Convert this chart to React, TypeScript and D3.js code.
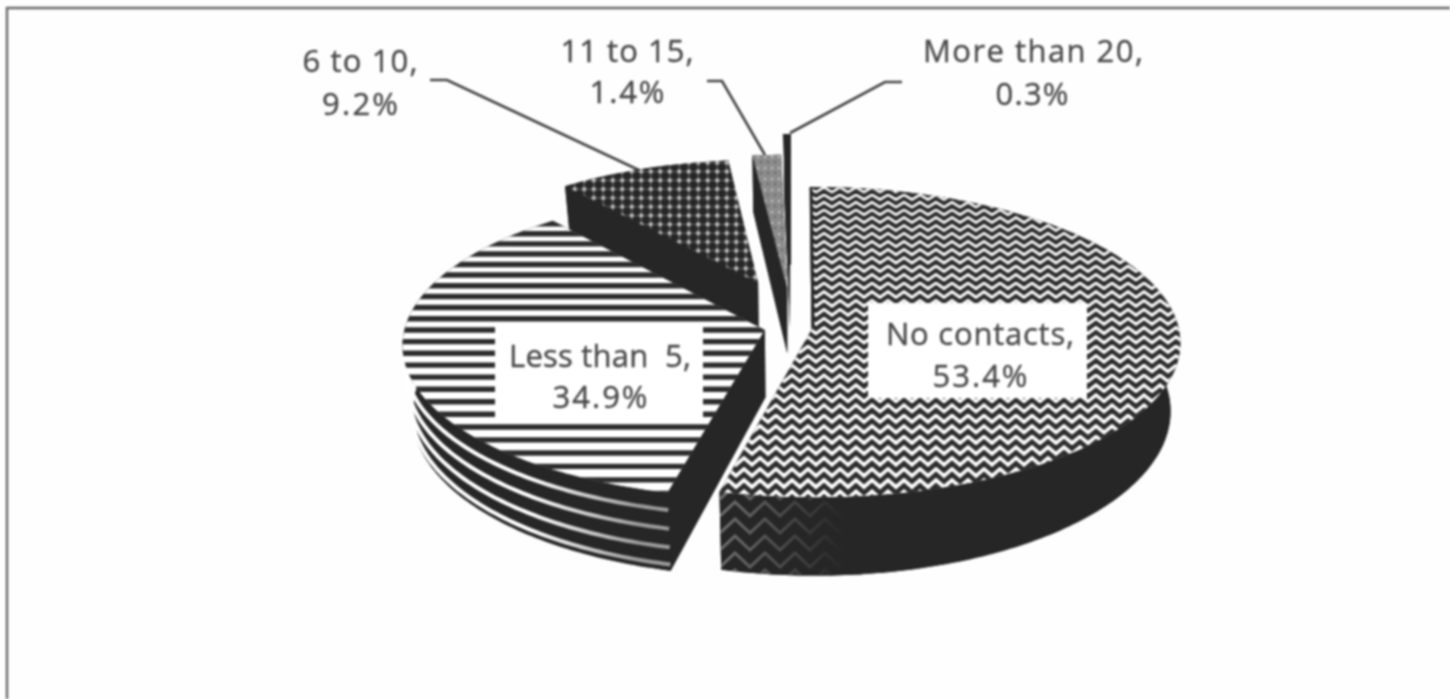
import React from "react";
import * as d3 from "d3";

const categories = ["No contacts", "Less than 5", "6 to 10", "11 to 15", "More than 20"];
const shares = [53.4, 34.9, 9.2, 1.4, 0.3];
const shareLabels = ["53.4%", "34.9%", "9.2%", "1.4%", "0.3%"];

// exploded offset of each slice in pie units, and slice radius
const explodeX = [0.066, -0.066, -0.087, -0.005, 0.003];
const explodeV = [0.007, 0.026, -0.288, -0.25, -0.414];
const radiusFactor = [1, 0.985, 0.92, 1, 1];

const W = 1450, H = 699;
const Cx = 789, Cy = 326, R = 365, Rt = 153.6, K = 0.097, Depth = 67, Shrink = 0.975;

function project(X: number, V: number, t = 0): [number, number] {
  const s = 1 / (1 - K * V);
  const x = Cx + R * X * s;
  const y = Cy + Rt * V * s;
  return [Cx + (x - Cx) * (1 - (1 - Shrink) * t), y + Depth * t * Math.pow(s, 1.5)];
}

const arcs = d3.pie<number>().sort(null).value((d) => d)(shares);
const line = d3.line();

function rim(i: number, t: number): [number, number][] {
  const a = arcs[i];
  const n = Math.max(6, Math.ceil((a.endAngle - a.startAngle) * 60));
  const ang = d3.scaleLinear().domain([0, n]).range([a.startAngle, a.endAngle]);
  return d3.range(n + 1).map((j) => {
    const th = ang(j);
    const r = radiusFactor[i];
    return project(explodeX[i] + r * Math.sin(th), explodeV[i] - r * Math.cos(th), t);
  });
}
const apex = (i: number, t: number) => project(explodeX[i], explodeV[i], t);
const topPath = (i: number) => line([apex(i, 0), ...rim(i, 0)]) + "Z";
const bottomPath = (i: number) => line([apex(i, 1), ...rim(i, 1)]) + "Z";
const wallPath = (i: number) => line([...rim(i, 0), ...rim(i, 1).reverse()]) + "Z";
function cutPaths(i: number) {
  const r0 = rim(i, 0), r1 = rim(i, 1);
  return [
    line([apex(i, 0), r0[0], r1[0], apex(i, 1)]) + "Z",
    line([apex(i, 0), r0[r0.length - 1], r1[r1.length - 1], apex(i, 1)]) + "Z",
  ];
}

function rows(y0: number, y1: number, sp0: number, sp1: number) {
  const sp = d3.scaleLinear().domain([y0, y1]).range([sp0, sp1]);
  const out: number[] = [];
  for (let y = y0; y < y1; y += sp(y)) out.push(y);
  return out;
}
function zig(y: number, x0: number, x1: number, half: number, amp: number) {
  const n = Math.ceil((x1 - x0) / half);
  return line(d3.range(n + 1).map((j) => [x0 + j * half, y + (j % 2 ? -amp : amp)] as [number, number]));
}

const waveRows = rows(186, 506, 7.4, 11.6);
const waveWeight = d3.scaleLinear().domain([186, 506]).range([3.9, 4.8]);
const waveAmp = d3.scaleLinear().domain([186, 506]).range([2.4, 3.6]);
const wallRows = rows(492, 590, 17, 17);
const stripeRows = rows(214, 500, 9.8, 14);
const stripeDepths = [0.22, 0.46, 0.7, 0.92];

const DARK = "#262626";
const TEXT = "#4a4a4a";
const FONT = "'Open Sans', sans-serif";

const labels = [
  { i: 0, lines: [[categories[0] + ",", 980, 345, 188], [shareLabels[0], 980, 387, 95]] },
  { i: 1, lines: [["Less than  5,", 600, 367, 182], [shareLabels[1], 600, 408, 95]] },
  { i: 2, lines: [[categories[2] + ",", 360, 72, 115], [shareLabels[2], 360, 115, 76]] },
  { i: 3, lines: [[categories[3] + ",", 627, 62, 133], [shareLabels[3], 627, 103, 75]] },
  { i: 4, lines: [[categories[4] + ",", 1033, 62, 220], [shareLabels[4], 1032, 105, 73]] },
];
const labelBoxes = [
  [868, 303, 219, 95],
  [495, 323, 208, 97],
];
const leaders: [number, number][][] = [
  [[430, 80], [447, 80], [643, 172]],
  [[707, 81], [722, 81], [765, 155]],
  [[902, 82], [885, 82], [790, 133]],
];

export default function App() {
  return (
    <svg
      width={W}
      height={H}
      viewBox={`0 0 ${W} ${H}`}
      style={{ position: "absolute", left: 0, top: 0, display: "block", background: "#fefefe" }}
    >
      <defs>
        <filter id="scan" x="0" y="0" width={W} height={H} filterUnits="userSpaceOnUse" colorInterpolationFilters="sRGB">
          <feGaussianBlur stdDeviation="1" />
        </filter>
        {arcs.map((_, i) => (
          <clipPath id={`top${i}`} key={i}><path d={topPath(i)} /></clipPath>
        ))}
        <clipPath id="wall0"><path d={wallPath(0)} /></clipPath>
        <pattern id="dots" width="9.5" height="8.8" patternUnits="userSpaceOnUse">
          <rect width="9.5" height="8.8" fill={DARK} />
          <path d="M0 4.4H9.5M4.75 0V8.8" stroke="#6a6a6a" strokeWidth="1.2" />
          <circle cx="4.75" cy="4.4" r="2.1" fill="#c8c8c8" />
        </pattern>
        <pattern id="speck" width="7" height="11" patternUnits="userSpaceOnUse">
          <rect width="7" height="11" fill="#8c8c8c" />
          <circle cx="2" cy="3" r="1.1" fill="#d8d8d8" />
          <circle cx="5" cy="8" r="1.2" fill="#666" />
        </pattern>
        <linearGradient id="stripe" gradientUnits="userSpaceOnUse" x1="530" x2="640" y1="0" y2="0">
          <stop offset="0" stopColor="#fff" />
          <stop offset="1" stopColor="#9a9a9a" />
        </linearGradient>
        <linearGradient id="wallWave" gradientUnits="userSpaceOnUse" x1="727" x2="845" y1="0" y2="0">
          <stop offset="0" stopColor="#6e6e6e" />
          <stop offset="1" stopColor={DARK} />
        </linearGradient>
      </defs>

      <g filter="url(#scan)">
        <path d={`M7 ${H}V8H${W}`} fill="none" stroke="#6a6a6a" strokeWidth="2.4" />

        {leaders.map((pts, i) => (
          <path key={i} d={line(pts) as string} fill="none" stroke="#444" strokeWidth="2.6" />
        ))}

        {[4, 3, 2, 1, 0].map((i) => (
          <g key={i}>
            <path d={bottomPath(i)} fill={DARK} />
            {cutPaths(i).map((d, j) => (
              <path key={j} d={d} fill={DARK} />
            ))}
            <path d={wallPath(i)} fill={DARK} />
            {i === 0 && (
              <g clipPath="url(#wall0)">
                {wallRows.map((y) => (
                  <path key={y} d={zig(y, 720, 880, 15, 7) as string} fill="none" stroke="url(#wallWave)" strokeWidth="3" />
                ))}
              </g>
            )}
            {i === 1 &&
              stripeDepths.map((t) => (
                <path key={t} d={line(rim(1, t)) as string} fill="none" stroke="url(#stripe)" strokeWidth="4" />
              ))}
            {i === 0 && (
              <g clipPath="url(#top0)">
                <path d={topPath(0)} fill="#fff" />
                {waveRows.map((y) => (
                  <path key={y} d={zig(y, 720, 1190, 8, waveAmp(y)) as string} fill="none" stroke="#2c2c2c" strokeWidth={waveWeight(y)} />
                ))}
              </g>
            )}
            {i === 0 && <path d={line([apex(0, 0), rim(0, 0)[0]]) as string} fill="none" stroke={DARK} strokeWidth="3" />}
            {i === 1 && (
              <g clipPath="url(#top1)">
                <path d={topPath(1)} fill="#fff" />
                {stripeRows.map((y) => (
                  <line key={y} x1={390} x2={780} y1={y} y2={y} stroke="#2c2c2c" strokeWidth="5.4" />
                ))}
              </g>
            )}
            {i === 2 && <path d={topPath(2)} fill="url(#dots)" />}
            {i === 3 && <path d={topPath(3)} fill="url(#speck)" />}
            {i === 4 && <path d={topPath(4)} fill={DARK} stroke={DARK} strokeWidth="2" />}
          </g>
        ))}

        {labelBoxes.map(([x, y, w, h], i) => (
          <rect key={i} x={x} y={y} width={w} height={h} fill="#fff" />
        ))}

        {labels.map((l) =>
          l.lines.map(([txt, x, y, len], j) => (
            <text
              key={`${l.i}-${j}`}
              x={x as number}
              y={y as number}
              textAnchor="middle"
              textLength={len as number}
              lengthAdjust="spacing"
              fontFamily={FONT}
              fontSize={31}
              fill={TEXT}
              stroke={TEXT}
              strokeWidth={0.4}
              xmlSpace="preserve"
            >
              {txt}
            </text>
          ))
        )}
      </g>
    </svg>
  );
}
